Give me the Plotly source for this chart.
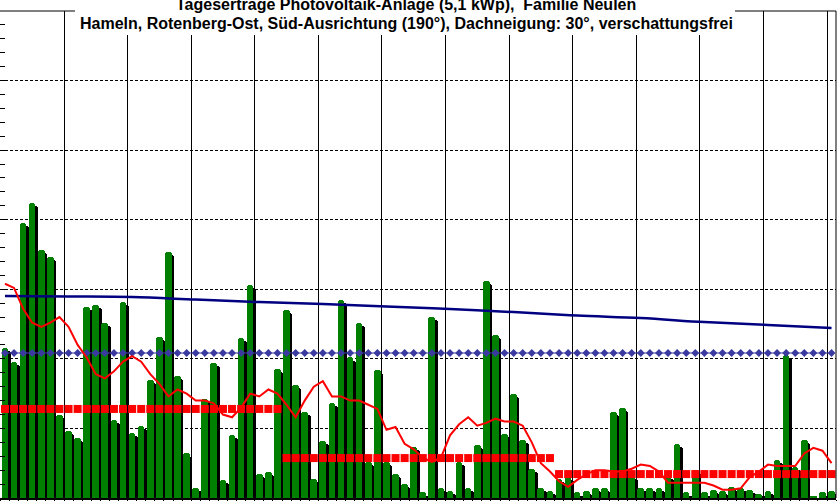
import plotly.graph_objects as go

# ---- data ----
days = list(range(1, 93))  # 1 Oct .. 31 Dec
daily_yield = [
    10.8, 9.8, 19.8, 21.2, 17.8, 17.3, 6.0, 4.8, 4.3, 13.7,
    13.9, 12.6, 5.6, 14.1, 4.7, 5.2, 8.5, 11.6, 17.7, 8.8,
    3.2, 0.7, 7.1, 9.7, 1.3, 4.5, 11.5, 15.3, 1.7, 1.9,
    9.3,
    13.5, 8.1, 6.2, 1.4, 4.1, 6.8, 14.2, 10.1, 12.6, 2.6,
    9.2, 2.6, 1.7, 1.0, 3.7, 0.4, 13.0, 0.7, 0.5, 2.6,
    0.7, 3.8, 15.6, 11.7, 4.6, 7.5, 4.2, 2.1, 0.7, 0.5,
    1.4, 1.5, 0.4, 0.5, 0.7, 0.7, 6.2, 6.5, 1.6, 0.7,
    0.7, 0.7, 1.6, 3.9, 0.4, 2.0, 0.4, 0.6, 0.5, 0.8,
    0.7, 0.6, 0.3, 0.5, 2.7, 10.3, 2.2, 4.2, 0.1, 0.4,
    0.5,
]
moving_avg = [
    15.4, 15.1, 13.6, 12.6, 12.3, 12.6, 13.0, 12.3, 11.0, 10.1,
    8.9, 8.6, 9.1, 9.8, 10.2, 9.8, 8.9, 8.2, 7.3, 7.8,
    7.5, 7.0, 7.0, 6.8, 6.0, 5.8, 6.5, 7.5, 7.3, 7.8,
    7.5, 6.7, 5.8, 7.0, 8.0, 8.4, 7.3, 7.3, 7.0, 7.0,
    6.7, 6.4, 4.9, 5.1, 3.9, 3.5, 2.9, 2.6, 2.9, 4.5,
    5.3, 5.8, 5.2, 5.4, 5.7, 5.5, 5.5, 5.2, 4.0, 2.5,
    1.9, 1.2, 0.8, 1.3, 1.7, 2.0, 2.0, 1.9, 1.9, 2.1,
    2.4, 2.3, 1.9, 1.1, 1.1, 1.1, 1.1, 1.1, 0.9, 0.6,
    0.6, 0.7, 1.5, 1.9, 2.4, 2.3, 2.3, 2.3, 3.2, 3.6,
    3.4, 2.5,
]
expected_days = [1, 8, 15, 22, 29, 36, 43, 50, 57, 64, 71, 78, 85, 92]
expected_vals = [14.51, 14.48, 14.44, 14.26, 14.08, 13.94, 13.76, 13.58,
                 13.36, 13.11, 12.93, 12.64, 12.43, 12.21]
overall_avg = 10.42
month_lengths = [31, 30, 31]
month_avg = [6.4, 2.87, 1.72]

month_level = []
for n, v in zip(month_lengths, month_avg):
    month_level += [v] * n

title1 = "Tageserträge Photovoltaik-Anlage (5,1 kWp),  Familie Neulen"
title2 = "Hameln, Rotenberg-Ost, Süd-Ausrichtung (190°), Dachneigung: 30°, verschattungsfrei"

# ---- figure ----
W, H = 840, 501
ML, MR, MT, MB = 0, 4, 11, 3
PW, PH = W - ML - MR, H - MT - MB

fig = go.Figure()

shadow_drop = 0.22
fig.add_trace(go.Bar(
    x=days, y=[max(v - shadow_drop, 0) for v in daily_yield],
    offset=-0.1, width=0.74,
    marker=dict(color="#000000", line=dict(width=0), cornerradius=3),
    hoverinfo="skip", showlegend=False))
fig.add_trace(go.Bar(
    x=days, y=daily_yield,
    offset=-0.38, width=0.74,
    marker=dict(color="#008000", line=dict(width=0), cornerradius=3),
    showlegend=False))

fig.add_trace(go.Scatter(
    x=expected_days, y=expected_vals, mode="lines",
    line=dict(color="#000080", width=2.5, shape="spline"),
    showlegend=False))

fig.add_trace(go.Scatter(
    x=days, y=[overall_avg] * len(days), mode="lines+markers",
    line=dict(color="#3a3aa0", width=1),
    marker=dict(symbol="diamond", size=6, color="#3a3aa0"),
    showlegend=False))

fig.add_trace(go.Scatter(
    x=days, y=month_level, mode="markers",
    marker=dict(symbol="square", size=8, color="#ff0000", line=dict(width=0)),
    showlegend=False))

fig.add_trace(go.Scatter(
    x=days, y=moving_avg, mode="lines",
    line=dict(color="#ff0000", width=2),
    showlegend=False))

px_per_day = 763 / 84
x0 = 7.5 - 64 / px_per_day
x1 = x0 + PW / px_per_day

fig.update_layout(
    width=W, height=H,
    margin=dict(l=ML, r=MR, t=MT, b=MB, pad=0),
    paper_bgcolor="white", plot_bgcolor="white",
    barmode="overlay", bargap=0,
    xaxis=dict(
        range=[x0, x1],
        tickmode="array", tickvals=[7.5 + 7 * k for k in range(13)],
        showticklabels=False, ticks="outside", ticklen=3, tickcolor="black",
        showgrid=True, gridcolor="black", gridwidth=1,
        showline=True, linecolor="black", linewidth=2,
        zeroline=False,
        minor=dict(tick0=0.5, dtick=1, ticks="outside", ticklen=3,
                   tickcolor="black", showgrid=False),
    ),
    yaxis=dict(
        range=[0, 35], dtick=5, tick0=0,
        showticklabels=False, ticks="inside", ticklen=5, tickcolor="black",
        showgrid=True, gridcolor="black", gridwidth=1, griddash="3px,2px",
        showline=False, zeroline=False,
        minor=dict(dtick=1, ticks="inside", ticklen=5, tickcolor="black",
                   showgrid=False),
    ),
    font=dict(family="Liberation Sans, Arial, sans-serif", color="black"),
)

def py(pix):
    return (H - MB - pix) / PH

def pxx(pix):
    return (pix - ML) / PW

shapes = [
    dict(type="line", xref="paper", yref="paper", x0=0, x1=1, y0=1, y1=1,
         line=dict(color="black", width=1), layer="above"),
    dict(type="line", xref="paper", yref="paper", x0=1, x1=1, y0=0, y1=1,
         line=dict(color="black", width=1), layer="above"),
    dict(type="rect", xref="paper", yref="paper",
         x0=pxx(75), x1=pxx(735), y0=py(35), y1=py(-2),
         fillcolor="white", line=dict(width=0), layer="above"),
]
fig.update_layout(shapes=shapes)

fig.add_annotation(text="<b>" + title1 + "</b>", xref="paper", yref="paper",
                   x=pxx(406), y=py(5), xanchor="center", yanchor="middle",
                   showarrow=False, font=dict(size=16, color="black"))
fig.add_annotation(text="<b>" + title2 + "</b>", xref="paper", yref="paper",
                   x=pxx(406), y=py(23), xanchor="center", yanchor="middle",
                   showarrow=False, font=dict(size=16, color="black"))

fig.write_html("out.html")
